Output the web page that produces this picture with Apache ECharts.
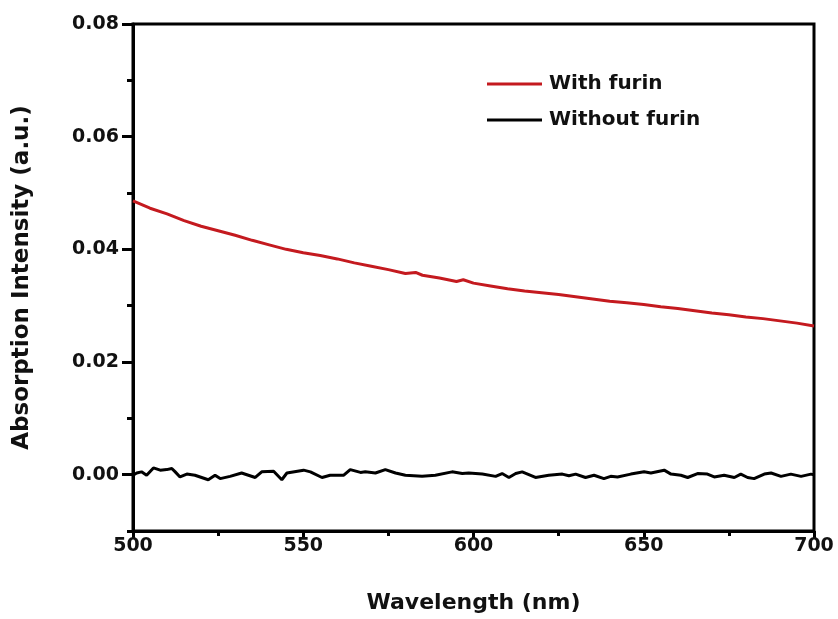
<!DOCTYPE html>
<html><head><meta charset="utf-8">
<script src="https://cdn.jsdelivr.net/npm/echarts@6/dist/echarts.min.js"></script>
<style>html,body{margin:0;padding:0;background:#fff}#c{width:838px;height:619px}</style>
</head><body><div id="c"></div>
<script>
const withFurinX = [500,505,510,515,520,525,530,535,540,545,550,555,560,565,570,575,580,583,585,590,595,597,600,605,610,615,620,625,630,635,640,645,650,655,660,665,670,675,680,685,690,695,700];
const withFurinY = [0.0486,0.0473,0.0463,0.0451,0.0441,0.0433,0.0425,0.0416,0.0408,0.0400,0.0394,0.0389,0.0383,0.0376,0.0370,0.0364,0.0357,0.0359,0.0354,0.0349,0.0343,0.0346,0.0340,0.0335,0.0330,0.0326,0.0323,0.0320,0.0316,0.0312,0.0308,0.0305,0.0302,0.0298,0.0295,0.0291,0.0287,0.0284,0.0280,0.0277,0.0273,0.0269,0.0264];
const withoutFurinX = [500,501.1,502.5,504,506,508,509.9,511.4,512.4,513.8,515.8,518.2,522.1,524.1,525.6,528.5,531.9,535.9,537.8,541.3,543.7,545.2,550.1,552.1,555.5,557.9,561.9,563.8,566.8,568.2,571.2,574.1,577.1,580,584.9,588.8,593.7,596.7,598.6,602.6,606.5,608.4,610.4,612.4,614.3,618.2,622.1,626.1,628,630,632.9,635.4,638.3,640.3,642.3,646.2,650.1,652.1,656,658,660.9,662.9,665.8,668.7,670.7,673.6,676.6,678.5,680.5,682.4,685.4,687.4,690.3,693.2,696.2,699.1,700];
const withoutFurinY = [-0.0001,0.0003,0.0005,-0.0001,0.0012,0.0008,0.0009,0.0011,0.0005,-0.0004,0.0001,-0.0001,-0.0009,-0.0001,-0.0007,-0.0003,0.0003,-0.0005,0.0005,0.0006,-0.0009,0.0003,0.0008,0.0005,-0.0005,-0.0001,-0.0001,0.0009,0.0004,0.0005,0.0003,0.0009,0.0003,-0.0001,-0.0003,-0.0001,0.0005,0.0002,0.0003,0.0001,-0.0003,0.0002,-0.0005,0.0002,0.0005,-0.0005,-0.0001,0.0001,-0.0002,0.0001,-0.0005,-0.0001,-0.0007,-0.0003,-0.0004,0.0001,0.0005,0.0003,0.0008,0.0001,-0.0001,-0.0005,0.0002,0.0001,-0.0004,-0.0001,-0.0005,0.0001,-0.0005,-0.0007,0.0001,0.0003,-0.0003,0.0001,-0.0003,0.0001,0.0000];
const yMajorTicks = [0,0.02,0.04,0.06,0.08];
const yMinorTicks = [-0.01,0.01,0.03,0.05,0.07];
const xMajorTicks = [500,550,600,650,700];
const xMinorTicks = [525,575,625,675];
const seriesNames = ['With furin','Without furin'];

const zip = (xs, ys) => xs.map((x, i) => [x, ys[i]]);
const font = 'DejaVu Sans';
const chart = echarts.init(document.getElementById('c'), null, {renderer: 'canvas'});
const axLine = {show: true, onZero: false, lineStyle: {color: '#000', width: 3}};
chart.setOption({
  animation: false,
  backgroundColor: '#fff',
  grid: {left: 133, right: 24, top: 24, bottom: 86, show: true, borderColor: '#000', borderWidth: 3, backgroundColor: 'transparent'},
  legend: {
    orient: 'vertical', left: 482, top: 69, itemWidth: 55, itemHeight: 3, itemGap: 16,
    icon: 'rect',
    textStyle: {fontFamily: font, fontWeight: 'bold', fontSize: 20, color: '#111', padding: [0,0,0,2]},
    data: seriesNames
  },
  xAxis: [{
    type: 'value', min: 500, max: 700, interval: 25,
    axisLine: axLine,
    axisTick: {show: true, inside: false, length: 8, lineStyle: {width: 3, color: '#000'}, customValues: xMajorTicks},
    axisLabel: {fontFamily: font, fontWeight: 'bold', fontSize: 19, color: '#111', margin: 6, customValues: xMajorTicks},
    splitLine: {show: false},
    name: 'Wavelength (nm)', nameLocation: 'middle', nameGap: 61,
    nameTextStyle: {fontFamily: font, fontWeight: 'bold', fontSize: 22, color: '#111'}
  }, {
    type: 'value', min: 500, max: 700, interval: 25, position: 'bottom',
    axisLine: {show: false, onZero: false},
    axisTick: {show: true, length: 5, lineStyle: {width: 3, color: '#000'}, customValues: xMinorTicks},
    axisLabel: {show: false}, splitLine: {show: false}
  }],
  yAxis: [{
    type: 'value', min: -0.01, max: 0.08, interval: 0.01,
    axisLine: axLine,
    axisTick: {show: true, length: 11, lineStyle: {width: 3, color: '#000'}, customValues: yMajorTicks},
    axisLabel: {fontFamily: font, fontWeight: 'bold', fontSize: 19, color: '#111', margin: 14, customValues: yMajorTicks,
      formatter: v => v.toFixed(2)},
    splitLine: {show: false},
    name: 'Absorption Intensity (a.u.)', nameLocation: 'middle', nameGap: 99,
    nameTextStyle: {fontFamily: font, fontWeight: 'bold', fontSize: 23, color: '#111'}
  }, {
    type: 'value', min: -0.01, max: 0.08, interval: 0.01, position: 'left',
    axisLine: {show: false, onZero: false},
    axisTick: {show: true, length: 6, lineStyle: {width: 3, color: '#000'}, customValues: yMinorTicks},
    axisLabel: {show: false}, splitLine: {show: false}
  }],
  series: [{
    name: seriesNames[0], type: 'line', showSymbol: false, symbol: 'none',
    data: zip(withFurinX, withFurinY),
    lineStyle: {color: '#c41a1f', width: 3}, itemStyle: {color: '#c41a1f'}
  }, {
    name: seriesNames[1], type: 'line', showSymbol: false, symbol: 'none',
    data: zip(withoutFurinX, withoutFurinY),
    lineStyle: {color: '#000', width: 3}, itemStyle: {color: '#000'}
  }]
});
</script></body></html>
